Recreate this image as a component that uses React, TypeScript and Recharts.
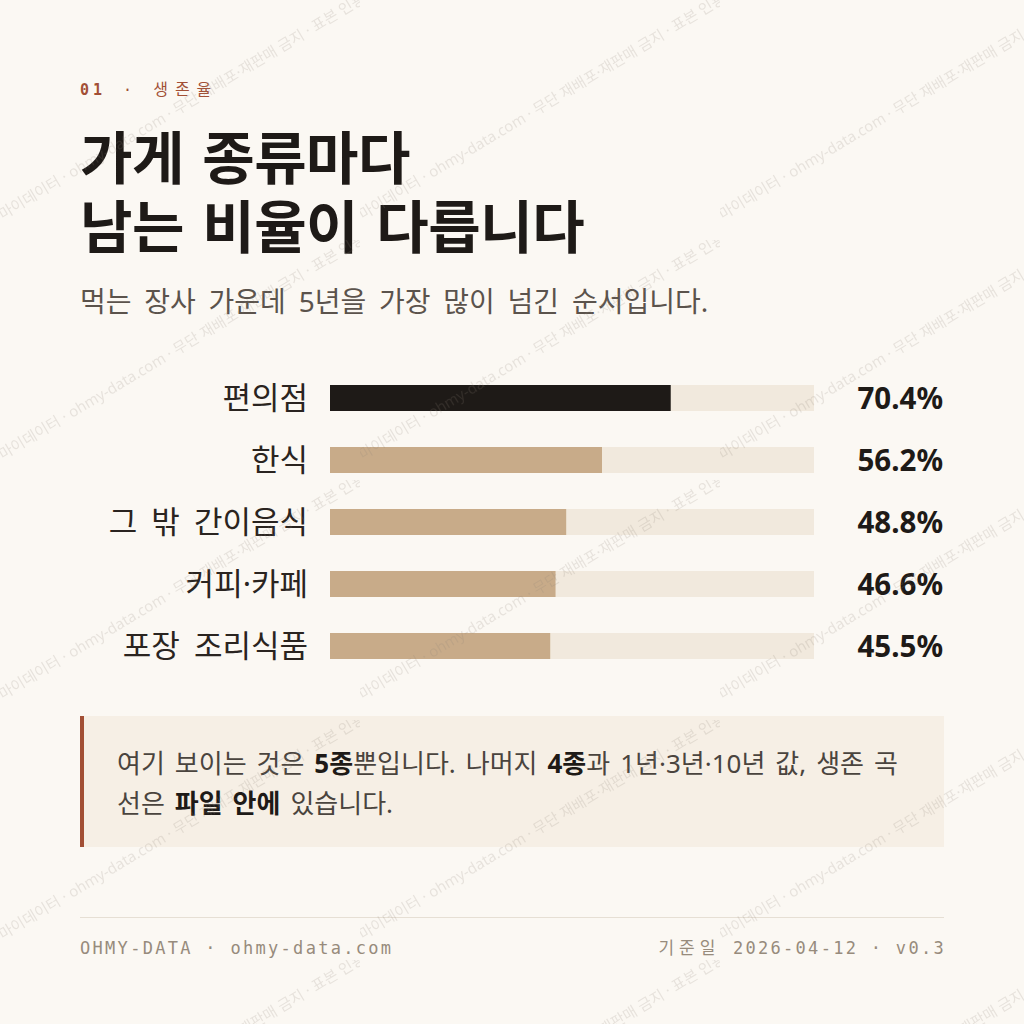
import { BarChart, Bar, XAxis, YAxis, Cell } from 'recharts'

// 5년 생존율 (%)
const categories = ['편의점', '한식', '그 밖 간이음식', '커피·카페', '포장 조리식품']
const survival5y = [70.4, 56.2, 48.8, 46.6, 45.5]
const xTicks = [0, 100]

const WATERMARK = '· 마이데이터 · ohmy-data.com · 무단 재배포·재판매 금지 · 표본 인용 시 출처 표기'

const data = categories.map((name, i) => ({ name, value: survival5y[i] }))

const BG = '#fbf8f3'
const INK = '#1e1a17'
const TAN = '#c8ab89'
const TRACK = '#f1e9dd'
const RUST = '#a24f35'
const SANS = '"Noto Sans", "Noto Sans CJK KR", sans-serif'
const MONO = '"DejaVu Sans Mono", "Liberation Mono", "Noto Sans CJK KR", monospace'

function NameTick(props: any) {
  const { x, y, payload } = props
  return (
    <text x={x} y={y} dy="0.35em" textAnchor="end" fontSize={31} fill="#2a2420" fontFamily={SANS} style={{ wordSpacing: 6 }}>
      {payload.value}
    </text>
  )
}

function ValueTick(props: any) {
  const { x, y, index } = props
  return (
    <text x={x + 129} y={y} dy="0.36em" textAnchor="end" fontSize={29.5} fontWeight={700} fill={INK} fontFamily={SANS}>
      {survival5y[index].toFixed(1)}%
    </text>
  )
}

function Watermark() {
  return (
    <svg width={1024} height={1024} style={{ position: 'absolute', left: 0, top: 0, pointerEvents: 'none' }}>
      <defs>
        <pattern id="wm" width={360} height={240} patternUnits="userSpaceOnUse">
          <text
            x={-4}
            y={224}
            transform="rotate(-31 -4 224)"
            fontSize={15}
            fontFamily={SANS}
            fill="#8a7f74"
            fillOpacity={0.18}
          >
            {WATERMARK}
          </text>
        </pattern>
      </defs>
      <rect width={1024} height={1024} fill="url(#wm)" />
    </svg>
  )
}

export default function App() {
  return (
    <div style={{ position: 'absolute', left: 0, top: 0, width: 1024, height: 1024, background: BG, overflow: 'hidden', fontFamily: SANS }}>
      {/* 머리말 */}
      <div style={{ position: 'absolute', left: 80, top: 79, fontFamily: MONO, fontSize: 15, color: RUST, letterSpacing: 4, wordSpacing: 4, lineHeight: '22px', whiteSpace: 'nowrap' }}>
        <b>01</b> · <span style={{ fontSize: 16, letterSpacing: 7 }}>생존율</span>
      </div>
      <div style={{ position: 'absolute', left: 80, top: 125, fontSize: 57, fontWeight: 700, color: INK, lineHeight: '64px', letterSpacing: -0.5, wordSpacing: 4, whiteSpace: 'nowrap' }}>
        가게 종류마다
      </div>
      <div style={{ position: 'absolute', left: 80, top: 194, fontSize: 57, fontWeight: 700, color: INK, lineHeight: '64px', letterSpacing: -0.5, wordSpacing: 4, whiteSpace: 'nowrap' }}>
        남는 비율이 다릅니다
      </div>
      <div style={{ position: 'absolute', left: 80, top: 282, fontSize: 28, color: '#5b534c', lineHeight: '38px', wordSpacing: 5.5, whiteSpace: 'nowrap' }}>
        먹는 장사 가운데 5년을 가장 많이 넘긴 순서입니다.
      </div>

      {/* 막대 */}
      <div style={{ position: 'absolute', left: 80, top: 367 }}>
        <BarChart width={864} height={310} data={data} layout="vertical" margin={{ top: 0, right: 0, bottom: 0, left: 0 }}>
          <XAxis type="number" domain={[0, 100]} ticks={xTicks} hide />
          <YAxis yAxisId="left" type="category" dataKey="name" width={250} axisLine={false} tickLine={false} tickSize={0} tickMargin={22} tick={<NameTick />} />
          <YAxis yAxisId="right" orientation="right" type="category" dataKey="name" width={130} axisLine={false} tickLine={false} tickSize={0} tickMargin={0} tick={<ValueTick />} />
          <Bar yAxisId="left" dataKey="value" barSize={26} background={{ fill: TRACK }} isAnimationActive={false}>
            {data.map((d, i) => (
              <Cell key={d.name} fill={i === 0 ? INK : TAN} />
            ))}
          </Bar>
        </BarChart>
      </div>

      {/* 안내 상자 */}
      <div style={{ position: 'absolute', left: 80, top: 716, width: 860, height: 131, background: '#f6efe5', borderLeft: `4px solid ${RUST}` }}>
        <div style={{ position: 'absolute', left: 33, top: 27, fontSize: 26, lineHeight: '40px', color: '#4a443e', wordSpacing: 3.2, whiteSpace: 'nowrap' }}>
          여기 보이는 것은 <b style={{ color: INK }}>5종</b>뿐입니다. 나머지 <b style={{ color: INK }}>4종</b>과 1년·3년·10년 값, 생존 곡<br />
          선은 <b style={{ color: INK }}>파일 안에</b> 있습니다.
        </div>
      </div>

      {/* 꼬리말 */}
      <div style={{ position: 'absolute', left: 80, top: 917, width: 864, height: 1, background: '#e6dfd4' }} />
      <div style={{ position: 'absolute', left: 80, top: 936, fontFamily: MONO, fontSize: 17, color: '#978b7c', letterSpacing: 2.3, lineHeight: '24px', whiteSpace: 'nowrap' }}>
        OHMY-DATA · ohmy-data.com
      </div>
      <div style={{ position: 'absolute', right: 78, top: 936, fontFamily: MONO, fontSize: 17, color: '#978b7c', letterSpacing: 2.3, lineHeight: '24px', whiteSpace: 'nowrap' }}>
        <span style={{ letterSpacing: 5 }}>기준일</span> 2026-04-12 · v0.3
      </div>

      <Watermark />
    </div>
  )
}
